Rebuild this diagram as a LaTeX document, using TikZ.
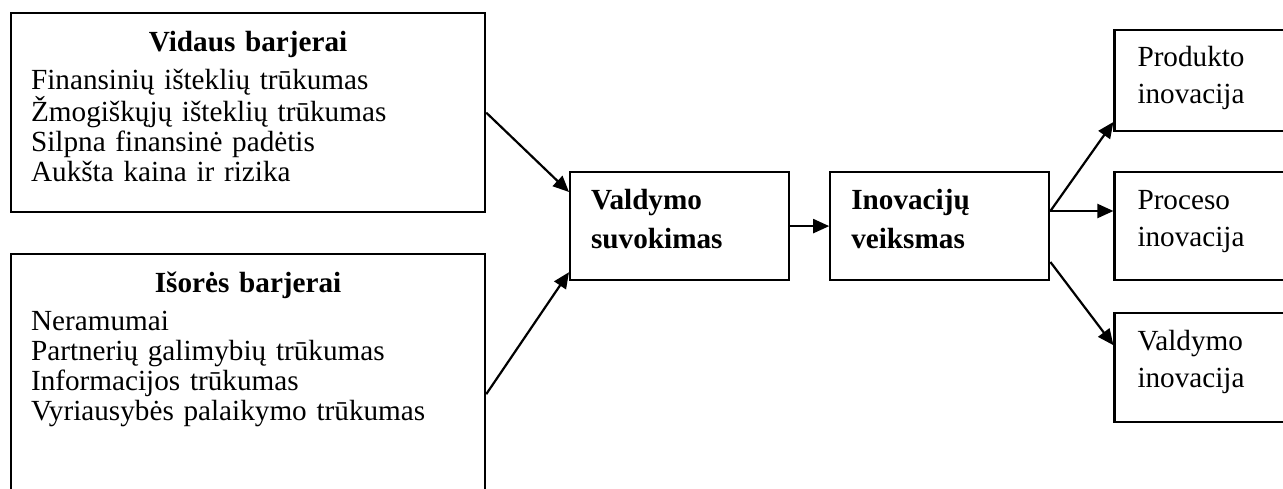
\documentclass[tikz,border=0pt]{standalone}
\usepackage{fontspec}
\setmainfont{Liberation Serif}
\usetikzlibrary{positioning,arrows.meta,calc}

\begin{document}
\begin{tikzpicture}[x=0.5pt, y=0.5pt, font=\fontsize{14.6pt}{15pt}\selectfont,
  box/.style={draw, line width=1.1pt, inner ysep=0pt, align=left},
  barrier/.style={box, text width=217pt, inner xsep=10pt, text height=19pt},
  stage/.style={box, text width=88.5pt, inner xsep=10.5pt, text height=18.5pt, text depth=35.5pt, font=\bfseries\fontsize{14.6pt}{19.5pt}\selectfont},
  outcome/.style={box, text width=67.5pt, inner xsep=11.5pt, text height=18.5pt, font=\fontsize{14.6pt}{18.5pt}\selectfont},
  arr/.style={-{Triangle[length=8pt, width=7pt]}, line width=1.1pt}]
\useasboundingbox (0,0) rectangle (1283,488);
\node[barrier, text depth=80.5pt, anchor=north west] (vid) at (10,476) {{\centering\textbf{Vidaus barjerai}\par}\vspace{4pt}Finansinių išteklių trūkumas\\Žmogiškųjų išteklių trūkumas\\Silpna finansinė padėtis\\Aukšta kaina ir rizika};
\node[barrier, text depth=105.5pt, below=20pt of vid] (isor) {{\centering\textbf{Išorės barjerai}\par}\vspace{4pt}Neramumai\\Partnerių galimybių trūkumas\\Informacijos trūkumas\\Vyriausybės palaikymo trūkumas};
\node[stage, anchor=north west] (val) at (569,317) {Valdymo\\suvokimas};
\node[stage, right=19.5pt of val] (inov) {Inovacijų\\veiksmas};
\node[outcome, text depth=35.5pt, right=31.5pt of inov] (proc) {Proceso\\inovacija};
\node[outcome, text depth=32pt, above=19.5pt of proc] (prod) {Produkto\\inovacija};
\node[outcome, text depth=36pt, below=15.5pt of proc] (mgmt) {Valdymo\\inovacija};
\coordinate (fork) at ($(inov.north east)+(0,-40)$);
\draw[arr] (vid.east) -- ($(val.north west)+(0,-21)$);
\draw[arr] ($(isor.north east)+(0,-141)$) -- ($(val.south west)+(0,9)$);
\draw[arr] (val) -- (inov);
\draw[arr] (fork) -- ($(prod.south west)+(0,10)$);
\draw[arr] (fork) -- (fork -| proc.west);
\draw[arr] ($(inov.north east)+(0,-91)$) -- ($(mgmt.north west)+(0,-33)$);
\end{tikzpicture}
\end{document}
